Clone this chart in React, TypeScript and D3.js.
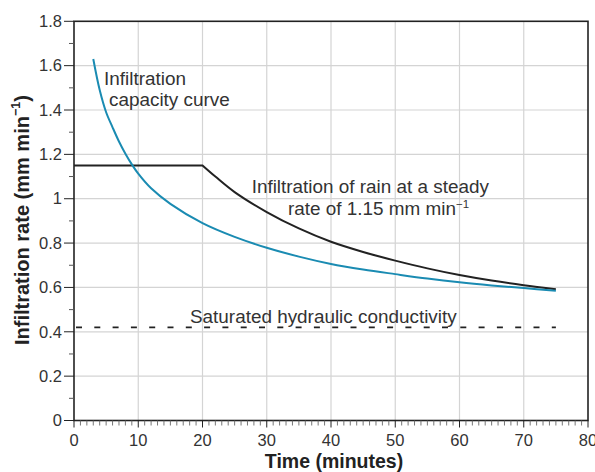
import React from "react";
import * as d3 from "d3";

const capacityTime = [3, 4, 5, 6, 7, 8, 9, 10, 12, 15, 20, 25, 30, 35, 40, 45, 50, 55, 60, 65, 70, 75];
const capacityRate = [1.63, 1.49, 1.39, 1.322, 1.258, 1.203, 1.155, 1.113, 1.047, 0.977, 0.89, 0.828, 0.779, 0.739, 0.706, 0.681, 0.66, 0.64, 0.623, 0.609, 0.597, 0.585];

const rainTime = [0, 20, 22, 25, 30, 35, 40, 45, 50, 55, 60, 65, 70, 75];
const rainRate = [1.15, 1.15, 1.1, 1.03, 0.94, 0.866, 0.806, 0.76, 0.721, 0.686, 0.656, 0.631, 0.61, 0.592];

const ksatRate = 0.42;
const ksatRange = [0, 75];

const xTicks = [0, 10, 20, 30, 40, 50, 60, 70, 80];
const yTicks = [0, 0.2, 0.4, 0.6, 0.8, 1, 1.2, 1.4, 1.6, 1.8];
const yTickLabels = ["0", "0.2", "0.4", "0.6", "0.8", "1", "1.2", "1.4", "1.6", "1.8"];

const W = 595, H = 472;
const L = 74, R = 588, T = 21.3, B = 420.5;
const FONT = "'Liberation Sans', Arial, Helvetica, sans-serif";
const TEXT = "#333";
const BLUE = "#1a8bb2";

export default function App() {
  const x = d3.scaleLinear().domain([0, 80]).range([L, R]);
  const y = d3.scaleLinear().domain([0, 1.8]).range([B, T]);

  const smooth = d3
    .line<[number, number]>()
    .x((d) => x(d[0]))
    .y((d) => y(d[1]))
    .curve(d3.curveCatmullRom.alpha(0.5));
  const straight = d3
    .line<[number, number]>()
    .x((d) => x(d[0]))
    .y((d) => y(d[1]));

  const capData: [number, number][] = capacityTime.map((t, i) => [t, capacityRate[i]]);
  const rainData: [number, number][] = rainTime.map((t, i) => [t, rainRate[i]]);
  const rainFlat = rainData.slice(0, 2);
  const rainFall = rainData.slice(1);

  const minorX = d3.range(0, 81, 1).filter((v) => v % 10 !== 0);
  const minorY = d3.range(1, 18, 2).map((v) => v / 10);

  return (
    <svg width={W} height={H} style={{ position: "absolute", left: 0, top: 0, background: "#fff" }} fontFamily={FONT}>
      <rect x={0} y={0} width={W} height={H} fill="#fff" />
      {/* grid */}
      {xTicks.filter((v) => v > 0 && v < 80).map((v) => (
        <line key={"gx" + v} x1={x(v)} x2={x(v)} y1={T} y2={B} stroke="#d4d4d4" strokeWidth={1.2} />
      ))}
      {yTicks.filter((v) => v > 0 && v < 1.8).map((v) => (
        <line key={"gy" + v} x1={L} x2={R} y1={y(v)} y2={y(v)} stroke="#d4d4d4" strokeWidth={1.2} />
      ))}
      {/* dashed ksat */}
      <line x1={x(ksatRange[0])} x2={x(ksatRange[1])} y1={y(ksatRate)} y2={y(ksatRate)} stroke="#222" strokeWidth={1.7} strokeDasharray="6,12.3" strokeDashoffset={-2} />
      {/* curves */}
      <path d={(straight(rainFlat) || "") + (smooth(rainFall) || "").replace(/^M/, "L")} fill="none" stroke="#222" strokeWidth={2} strokeLinejoin="miter" />
      <path d={smooth(capData) || ""} fill="none" stroke={BLUE} strokeWidth={2} />
      {/* frame */}
      <rect x={L} y={T} width={R - L} height={B - T} fill="none" stroke="#222" strokeWidth={1.6} />
      {/* y ticks */}
      {yTicks.map((v) => (
        <line key={"ty" + v} x1={L - 10} x2={L} y1={y(v)} y2={y(v)} stroke="#222" strokeWidth={1} />
      ))}
      {minorY.map((v) => (
        <line key={"my" + v} x1={L - 5} x2={L} y1={y(v)} y2={y(v)} stroke="#555" strokeWidth={1} />
      ))}
      {yTicks.map((v, i) => (
        <text key={"ly" + v} x={L - 12} y={y(v)} dy="0.35em" textAnchor="end" fontSize={16.5} fill={TEXT}>
          {yTickLabels[i]}
        </text>
      ))}
      {/* x ticks */}
      {xTicks.map((v) => (
        <line key={"tx" + v} x1={x(v)} x2={x(v)} y1={B} y2={B + 7} stroke="#222" strokeWidth={1} />
      ))}
      {minorX.map((v) => (
        <line key={"mx" + v} x1={x(v)} x2={x(v)} y1={B} y2={B + 5} stroke="#666" strokeWidth={0.9} />
      ))}
      {xTicks.map((v) => (
        <text key={"lx" + v} x={x(v)} y={446} textAnchor="middle" fontSize={16.5} fill={TEXT}>
          {v}
        </text>
      ))}
      {/* axis titles */}
      <text x={334} y={468} textAnchor="middle" fontSize={19.5} fontWeight="bold" fill="#222">
        Time (minutes)
      </text>
      <text transform={`translate(28.5, 345) rotate(-90)`} textAnchor="start" fontSize={20} fontWeight="bold" fill="#222">
        Infiltration rate (mm min
        <tspan fontSize={12.5} dy={-8.5}>−1</tspan>
        <tspan dy={8.5}>)</tspan>
      </text>
      {/* annotations */}
      <text x={104} y={85} fontSize={18.9} fill={TEXT}>Infiltration</text>
      <text x={109} y={106} fontSize={18.9} fill={TEXT}>capacity curve</text>
      <text x={489} y={193} textAnchor="end" fontSize={18.9} fill={TEXT}>Infiltration of rain at a steady</text>
      <text x={288} y={215} fontSize={18.9} fill={TEXT}>
        rate of 1.15 mm min
        <tspan fontSize={11.5} dy={-7}>−1</tspan>
      </text>
      <text x={190} y={322.5} fontSize={18.9} fill={TEXT}>Saturated hydraulic conductivity</text>
    </svg>
  );
}
